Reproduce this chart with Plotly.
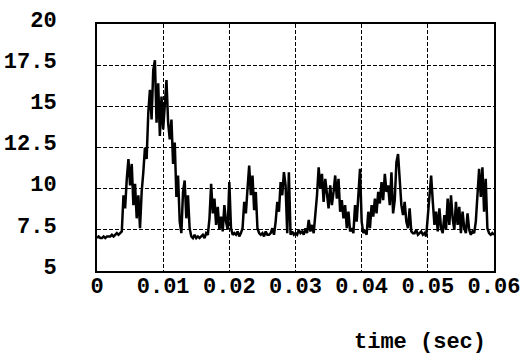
import numpy as np
import plotly.graph_objects as go

# sampled signal, dt = 0.00025 s
dt = 0.00025
values = [
    7.0, 7.1, 7.0, 7.0,  7.1, 7.0, 7.1, 7.1,  7.1, 7.2, 7.1, 7.2,  7.3, 7.2, 7.3, 7.4,
    9.6, 8.8, 10.6, 11.8,  10.2, 11.5, 9.0, 10.3,  8.2, 9.6, 7.6, 9.8,  11.0, 12.5, 11.8, 14.6,
    16.0, 14.2, 17.2, 17.8,  14.0, 16.4, 13.2, 15.6,  13.6, 15.2, 16.6, 14.0,  13.0, 14.2, 11.5, 12.8,
    9.5, 10.8, 8.0, 7.3,  9.8, 10.5, 8.2, 9.6,  7.6, 7.1, 7.0, 7.2,  7.0, 7.1, 7.0, 7.1,
    7.2, 7.0, 7.3, 7.2,  8.2, 10.3, 8.5, 9.4,  7.8, 8.9, 7.5, 8.3,  7.4, 9.0, 8.0, 7.5,
    10.4, 7.6, 7.2, 7.3,  7.2, 7.4, 7.1, 7.3,  7.6, 9.2, 8.5, 10.0,  11.4, 9.6, 10.8, 8.7,
    9.8, 7.6, 7.3, 7.2,  7.3, 7.1, 7.4, 7.2,  7.2, 7.3, 7.6, 7.2,  8.0, 9.2, 8.6, 10.4,
    9.6, 11.0, 10.2, 7.3,  11.0, 7.2, 7.4, 7.2,  7.3, 7.2, 7.5, 7.3,  7.4, 7.2, 7.6, 7.3,
    8.1, 7.4, 7.8, 7.3,  8.4, 9.6, 11.3, 10.0,  10.9, 9.2, 10.6, 9.5,  8.8, 10.2, 9.0, 9.8,
    10.8, 9.4, 10.6, 8.6,  9.3, 8.2, 9.0, 7.6,  8.6, 7.4, 7.6, 7.3,  9.0, 8.0, 10.0, 11.2,
    8.0, 7.3, 7.5, 7.2,  8.6, 7.6, 9.0, 8.3,  9.4, 8.5, 9.8, 9.1,  10.4, 9.3, 10.9, 9.8,
    10.2, 9.0, 11.0, 8.5,  9.3, 11.6, 12.1, 10.8,  9.0, 8.4, 9.2, 8.0,  7.6, 8.8, 7.4, 7.3,
    7.3, 7.5, 7.2, 7.3,  7.4, 7.2, 7.3, 7.1,  8.5, 9.5, 10.8, 9.2,  7.8, 8.6, 7.4, 8.8,
    7.6, 7.3, 8.4, 7.5,  9.4, 7.8, 9.6, 8.2,  7.5, 9.2, 7.8, 8.9,  7.3, 8.6, 7.6, 7.3,
    8.5, 7.5, 7.2, 7.4,  7.3, 8.0, 10.0, 11.2,  9.5, 11.3, 8.6, 10.6,  7.6, 7.3, 7.2, 7.3,
    7.2,
]
time_s = np.arange(len(values)) * dt

x_ticks = [0, 0.01, 0.02, 0.03, 0.04, 0.05, 0.06]
x_tick_labels = ["0", "0.01", "0.02", "0.03", "0.04", "0.05", "0.06"]
y_ticks = [5, 7.5, 10, 12.5, 15, 17.5, 20]
y_tick_labels = ["5", "7.5", "10", "12.5", "15", "17.5", "20"]
x_title = "time (sec)"

FONT = dict(family="Liberation Mono, Courier New, monospace", size=22, color="black", weight="bold")

fig = go.Figure()
fig.add_trace(go.Scatter(x=time_s, y=values, mode="lines",
                         line=dict(color="black", width=2.5), showlegend=False))

axis_common = dict(showline=True, linecolor="black", linewidth=2, mirror=True,
                   showgrid=True, gridcolor="black", gridwidth=1, griddash="4px,2px",
                   zeroline=False, ticks="", tickfont=FONT, automargin=False)

fig.update_xaxes(range=[0, 0.06], tickvals=x_ticks, ticktext=x_tick_labels,
                 ticklabelstandoff=-6, **axis_common)
fig.update_yaxes(range=[5, 20], tickvals=y_ticks, ticktext=y_tick_labels,
                 ticklabelstandoff=34, ticklabelshift=-5, **axis_common)

fig.add_annotation(text=x_title, xref="paper", yref="paper", x=0.985, y=-0.29,
                   xanchor="right", yanchor="middle", showarrow=False, font=FONT)

fig.update_layout(width=523, height=357, margin=dict(l=97, r=29, t=24, b=86),
                  plot_bgcolor="white", paper_bgcolor="white")

fig.write_html("out.html", config={"displayModeBar": False},
               post_script="document.body.style.margin='0';document.body.style.overflow='hidden';")
